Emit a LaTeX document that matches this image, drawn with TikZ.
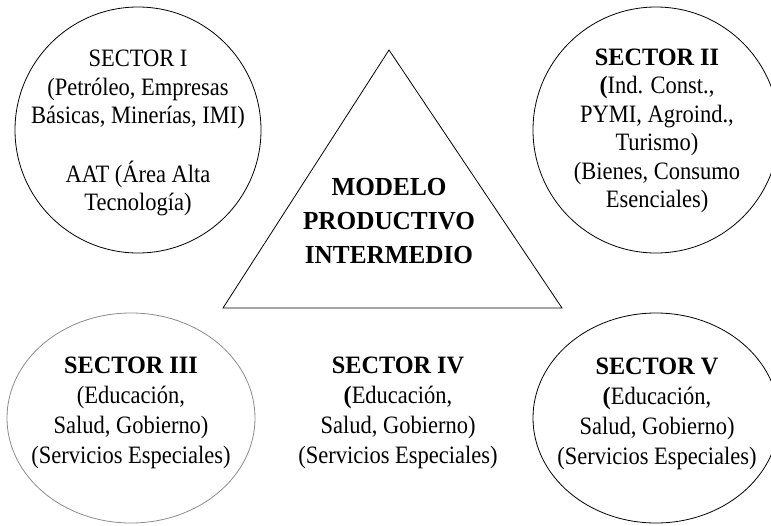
\documentclass[tikz,border=0pt]{standalone}
\usepackage{fontspec}
\setmainfont{Liberation Serif}[FakeStretch=0.9,BoldFeatures={FakeStretch=0.97}]
\usepackage{tikz}

\tikzset{
	ring/.style={line width=0.8pt},
	ringgray/.style={line width=0.8pt,draw=black!45},
	sectortxt/.style={align=center,font=\fontsize{25}{28.5}\selectfont},
	sectortxtlow/.style={align=center,font=\fontsize{25}{30}\selectfont},
	modelotxt/.style={align=center,font=\fontsize{26}{34}\selectfont\bfseries}
}

\begin{document}
\begin{tikzpicture}[x=1pt,y=-1pt]
	\useasboundingbox (0,0) rectangle (771,525);

	% circulos de los sectores
	\draw[ring] (138,130) circle (123pt);
	\draw[ring] (656,130) circle (123pt);
	\draw[ringgray] (131,418) ellipse (124pt and 105pt);
	\draw[ring] (656,418) ellipse (123pt and 105pt);

	% triangulo central
	\coordinate (apex) at (389,50);
	\coordinate (baseL) at (223,308);
	\coordinate (baseR) at (562,308);
	\draw[ring] (apex) -- (baseR) -- (baseL) -- cycle;
	\node[modelotxt] (modelo) at (389,221) {MODELO\\PRODUCTIVO\\INTERMEDIO};

	% textos
	\node[sectortxt] (sectorI) at (138,133) {SECTOR I\\(Petróleo, Empresas\\Básicas, Minerías, IMI)\\[30pt]AAT (Área Alta\\Tecnología)};
	\node[sectortxt] (sectorII) at (657,131) {\textbf{SECTOR II}\\\textbf{(}Ind. Const.,\\PYMI, Agroind.,\\Turismo)\\(Bienes, Consumo\\Esenciales)};
	\node[sectortxtlow] (sectorIII) at (131,413) {\textbf{SECTOR III}\\(Educación,\\Salud, Gobierno)\\(Servicios Especiales)};
	\node[sectortxtlow] (sectorIV) at (398,413) {\textbf{SECTOR IV}\\\textbf{(}Educación,\\Salud, Gobierno)\\(Servicios Especiales)};
	\node[sectortxtlow] (sectorV) at (657,414) {\textbf{SECTOR V}\\\textbf{(}Educación,\\Salud, Gobierno)\\(Servicios Especiales)};
\end{tikzpicture}
\end{document}
